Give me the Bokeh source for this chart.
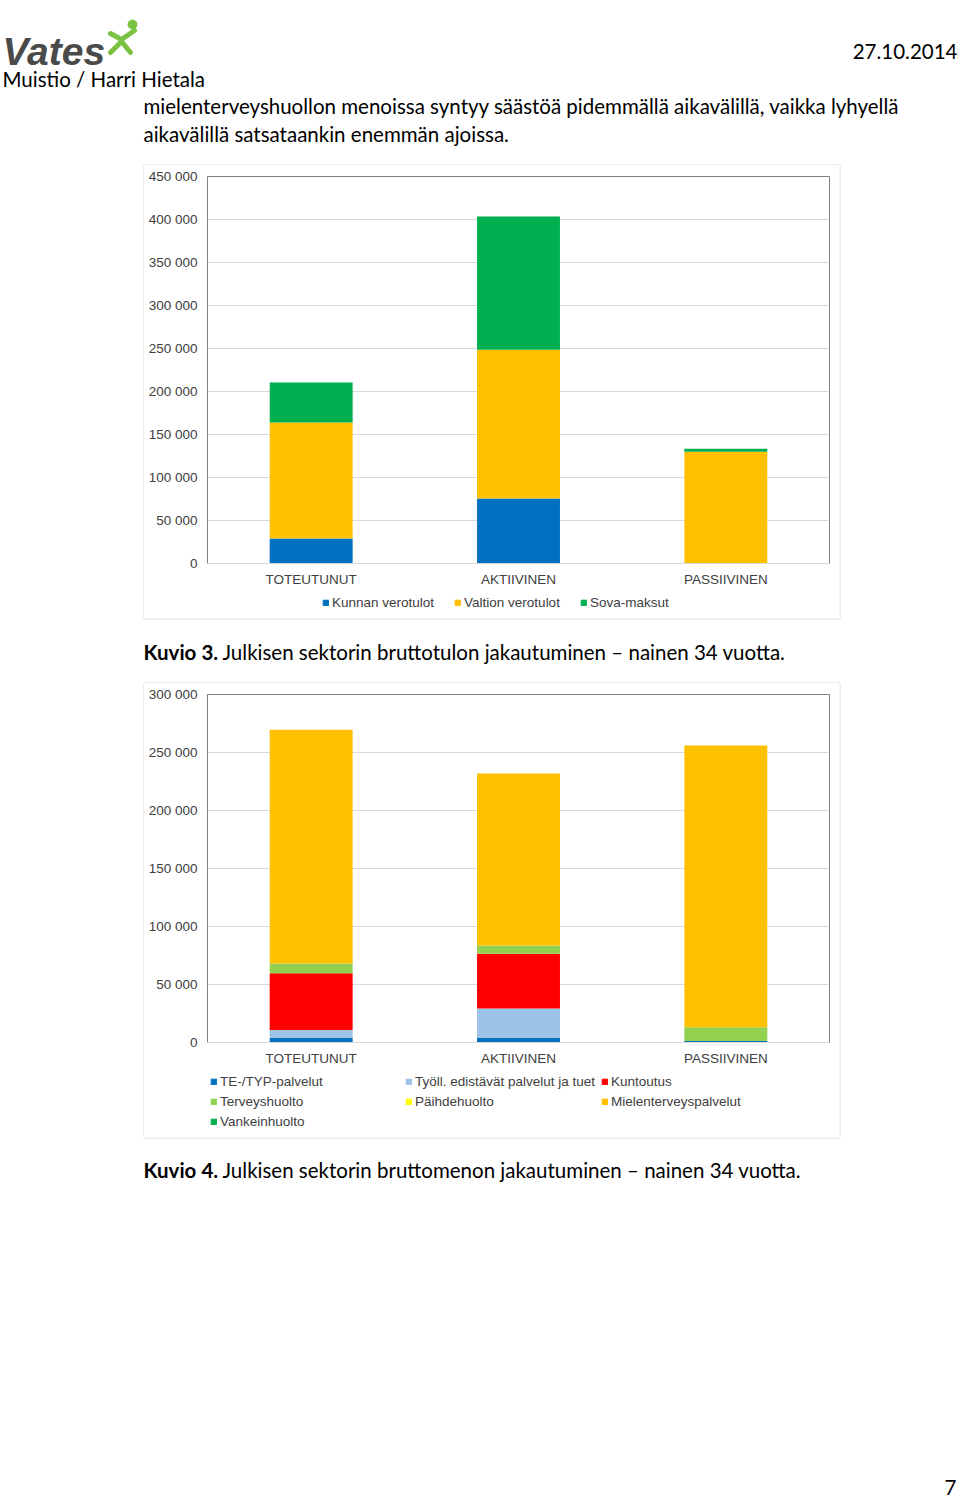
from bokeh.plotting import figure
from bokeh.models import (ColumnDataSource, Range1d, FactorRange, FixedTicker,
                          CustomJSTickFormatter, Legend, LegendItem)
from bokeh.layouts import column, row
from bokeh.core.properties import value
from bokeh.embed import file_html
from bokeh.resources import INLINE

# ---------------- data ----------------
categories = ["TOTEUTUNUT", "AKTIIVINEN", "PASSIIVINEN"]

# Kuvio 3 – bruttotulot
income_names = ["Kunnan verotulot", "Valtion verotulot", "Sova-maksut"]
kunnan_verotulot = [29000, 75500, 0]
valtion_verotulot = [135000, 173000, 130000]
sova_maksut = [46500, 155000, 3500]
income_colors = ["#0070C0", "#FFC000", "#00B050"]
income_ticks = [0, 50000, 100000, 150000, 200000, 250000, 300000, 350000, 400000, 450000]

# Kuvio 4 – bruttomenot
expense_names = ["TE-/TYP-palvelut", "Työll. edistävät palvelut ja tuet", "Kuntoutus",
                 "Terveyshuolto", "Päihdehuolto", "Mielenterveyspalvelut", "Vankeinhuolto"]
te_typ_palvelut = [3800, 3800, 1200]
tyoll_palvelut = [7000, 25500, 0]
kuntoutus = [49000, 47200, 0]
terveyshuolto = [8400, 7100, 12000]
paihdehuolto = [0, 0, 0]
mielenterveyspalvelut = [201500, 148300, 242800]
vankeinhuolto = [0, 0, 0]
expense_colors = ["#0070C0", "#9DC3E6", "#FF0000", "#92D050", "#FFFF00", "#FFC000", "#00B050"]
expense_ticks = [0, 50000, 100000, 150000, 200000, 250000, 300000]

# ---------------- styles ----------------
CH_FONT = "Liberation Sans"
CH_SIZE = "13.5px"
CH_COLOR = "#404040"
DOC_FONT = "Lato"
DOC_SIZE = "20.5px"
BOX = "#D9D9D9"

fmt = CustomJSTickFormatter(code="return String(tick).replace(/\\B(?=(\\d{3})+(?!\\d))/g, ' ');")


def make_chart(series, colors, y_end, ticks, height):
    keys = ["s%d" % i for i in range(len(series))]
    data = {"cat": categories}
    for k, s in zip(keys, series):
        data[k] = s
    src = ColumnDataSource(data)
    p = figure(x_range=FactorRange(factors=categories), y_range=Range1d(0, y_end),
               width=695, height=height, output_backend="svg", toolbar_location=None,
               min_border_left=63, min_border_right=10, min_border_top=11,
               min_border_bottom=26)
    p.vbar_stack(keys, x="cat", width=0.4, fill_color=colors, line_color=None, source=src)
    p.xaxis.major_label_text_font = CH_FONT
    p.xaxis.major_label_text_font_size = CH_SIZE
    p.xaxis.major_label_text_color = CH_COLOR
    p.xaxis.major_tick_line_color = None
    p.xaxis.major_tick_out = 0
    p.xaxis.major_tick_in = 0
    p.xaxis.axis_line_color = BOX
    p.xaxis.major_label_standoff = 8
    p.yaxis.ticker = FixedTicker(ticks=ticks)
    p.yaxis.formatter = fmt
    p.yaxis.major_label_text_font = CH_FONT
    p.yaxis.major_label_text_font_size = CH_SIZE
    p.yaxis.major_label_text_color = CH_COLOR
    p.yaxis.axis_line_color = None
    p.yaxis.major_tick_line_color = None
    p.yaxis.minor_tick_line_color = None
    p.yaxis.major_tick_out = 0
    p.yaxis.major_tick_in = 0
    p.yaxis.major_label_standoff = 10
    p.xgrid.grid_line_color = None
    p.ygrid.grid_line_color = BOX
    p.outline_line_color = "#808080"
    p.background_fill_color = "white"
    p.border_fill_color = "white"
    return p


def legend_fig(height, names, colors, groups):
    """groups: list of (item indices, (x, y) location relative to the plot frame, orientation)"""
    f = figure(width=695, height=height, x_range=Range1d(0, 1), y_range=Range1d(0, 1),
               output_backend="svg", toolbar_location=None, min_border=0,
               x_axis_type=None, y_axis_type=None)
    f.grid.visible = False
    f.outline_line_color = None
    f.background_fill_color = "white"
    f.border_fill_color = "white"
    # legend-only placeholder renderers (their single point is NaN, so nothing is drawn)
    rs = [f.vbar(x=[float("nan")], top=[float("nan")], width=0.4, color=c) for c in colors]
    for idx, loc, orient in groups:
        lg = Legend(items=[LegendItem(label=names[i], renderers=[rs[i]]) for i in idx],
                    location=loc, orientation=orient)
        lg.label_text_font = CH_FONT
        lg.label_text_font_size = CH_SIZE
        lg.label_text_color = CH_COLOR
        lg.glyph_width = 7
        lg.glyph_height = 7
        lg.label_standoff = 3
        lg.padding = 0
        lg.margin = 0
        lg.spacing = 20 if orient == "horizontal" else 0
        lg.label_height = 20
        lg.border_line_color = None
        lg.background_fill_alpha = 0
        f.add_layout(lg)
    return f


# Chart 1 (Kuvio 3): plot rows 165..588, legend rows 589..617
c1 = make_chart([kunnan_verotulot, valtion_verotulot, sova_maksut], income_colors,
                450000, income_ticks, 424)
leg1 = legend_fig(29, income_names, income_colors, [([0, 1, 2], (115, 6), "horizontal")])

# Chart 2 (Kuvio 4): plot rows 683..1067, legend rows 1068..1136
c2 = make_chart([te_typ_palvelut, tyoll_palvelut, kuntoutus, terveyshuolto,
                 paihdehuolto, mielenterveyspalvelut, vankeinhuolto], expense_colors,
                300000, expense_ticks, 385)
leg2 = legend_fig(69, expense_names, expense_colors,
                  [([0, 3, 6], (3, 6), "vertical"),
                   ([1, 4], (198, 26), "vertical"),
                   ([2, 5], (394, 26), "vertical")])


# ---------------- page pieces ----------------
def page_fig(width, height, x0, y_top):
    f = figure(width=width, height=height, x_range=Range1d(x0, x0 + width),
               y_range=Range1d(y_top + height, y_top), output_backend="svg",
               toolbar_location=None, min_border=0, x_axis_type=None, y_axis_type=None)
    f.grid.visible = False
    f.outline_line_color = None
    f.background_fill_color = "white"
    f.border_fill_color = "white"
    return f


def doc_text(f, x, y, s, bold=False, align="left"):
    f.text(x=[x], y=[y], text=[s], text_font=value(DOC_FONT), text_font_size=DOC_SIZE,
           text_font_style="bold" if bold else "normal", text_align=align,
           text_baseline="middle", text_color="black")


# header (rows 0..164); last row is the top edge of chart 1 box
header = page_fig(960, 165, 0, 0)
header.text(x=[2], y=[51], text=["Vates"], text_font=value("Liberation Sans"),
            text_font_size="39px", text_font_style="bold italic", text_color="#4A4A4A",
            text_baseline="alphabetic")
header.multi_line(xs=[[110, 121, 134], [110, 121, 130]], ys=[[33, 39, 30], [52, 41, 52]],
                  line_color="#7CC242", line_width=5, line_cap="round", line_join="round")
header.scatter(x=[132], y=[24], size=9, color="#7CC242")
doc_text(header, 957, 51, "27.10.2014", align="right")
doc_text(header, 2, 78, "Muistio / Harri Hietala")
doc_text(header, 143, 105,
         "mielenterveyshuollon menoissa syntyy säästöä pidemmällä aikavälillä, vaikka lyhyellä")
doc_text(header, 143, 133, "aikavälillä satsataankin enemmän ajoissa.")
header.segment(x0=[143], y0=[164.5], x1=[840], y1=[164.5], line_color=BOX, line_width=1)


def side(width, height, x0, y_top, line_x):
    f = page_fig(width, height, x0, y_top)
    f.segment(x0=[line_x], y0=[y_top], x1=[line_x], y1=[y_top + height],
              line_color=BOX, line_width=1)
    return f


left1 = side(144, 453, 0, 165, 143.5)
right1 = side(121, 453, 839, 165, 839.5)

# caption 1 (rows 618..682): top row = bottom edge of box 1, last row = top edge of box 2
cap1 = page_fig(960, 65, 0, 618)
cap1.segment(x0=[143, 143], y0=[618.5, 682.5], x1=[840, 840], y1=[618.5, 682.5],
             line_color=BOX, line_width=1)
doc_text(cap1, 143, 651, "Kuvio 3.", bold=True)
doc_text(cap1, 222, 651, "Julkisen sektorin bruttotulon jakautuminen – nainen 34 vuotta.")

left2 = side(144, 454, 0, 683, 143.5)
right2 = side(121, 454, 839, 683, 839.5)

# footer (rows 1137..1498)
footer = page_fig(960, 362, 0, 1137)
footer.segment(x0=[143], y0=[1137.5], x1=[840], y1=[1137.5], line_color=BOX, line_width=1)
doc_text(footer, 143, 1169, "Kuvio 4.", bold=True)
doc_text(footer, 222, 1169, "Julkisen sektorin bruttomenon jakautuminen – nainen 34 vuotta.")
doc_text(footer, 956, 1487, "7", align="right")

layout = column(
    header,
    row(left1, column(c1, leg1), right1),
    cap1,
    row(left2, column(c2, leg2), right2),
    footer,
)

open("out.html", "w").write(file_html(layout, INLINE))
